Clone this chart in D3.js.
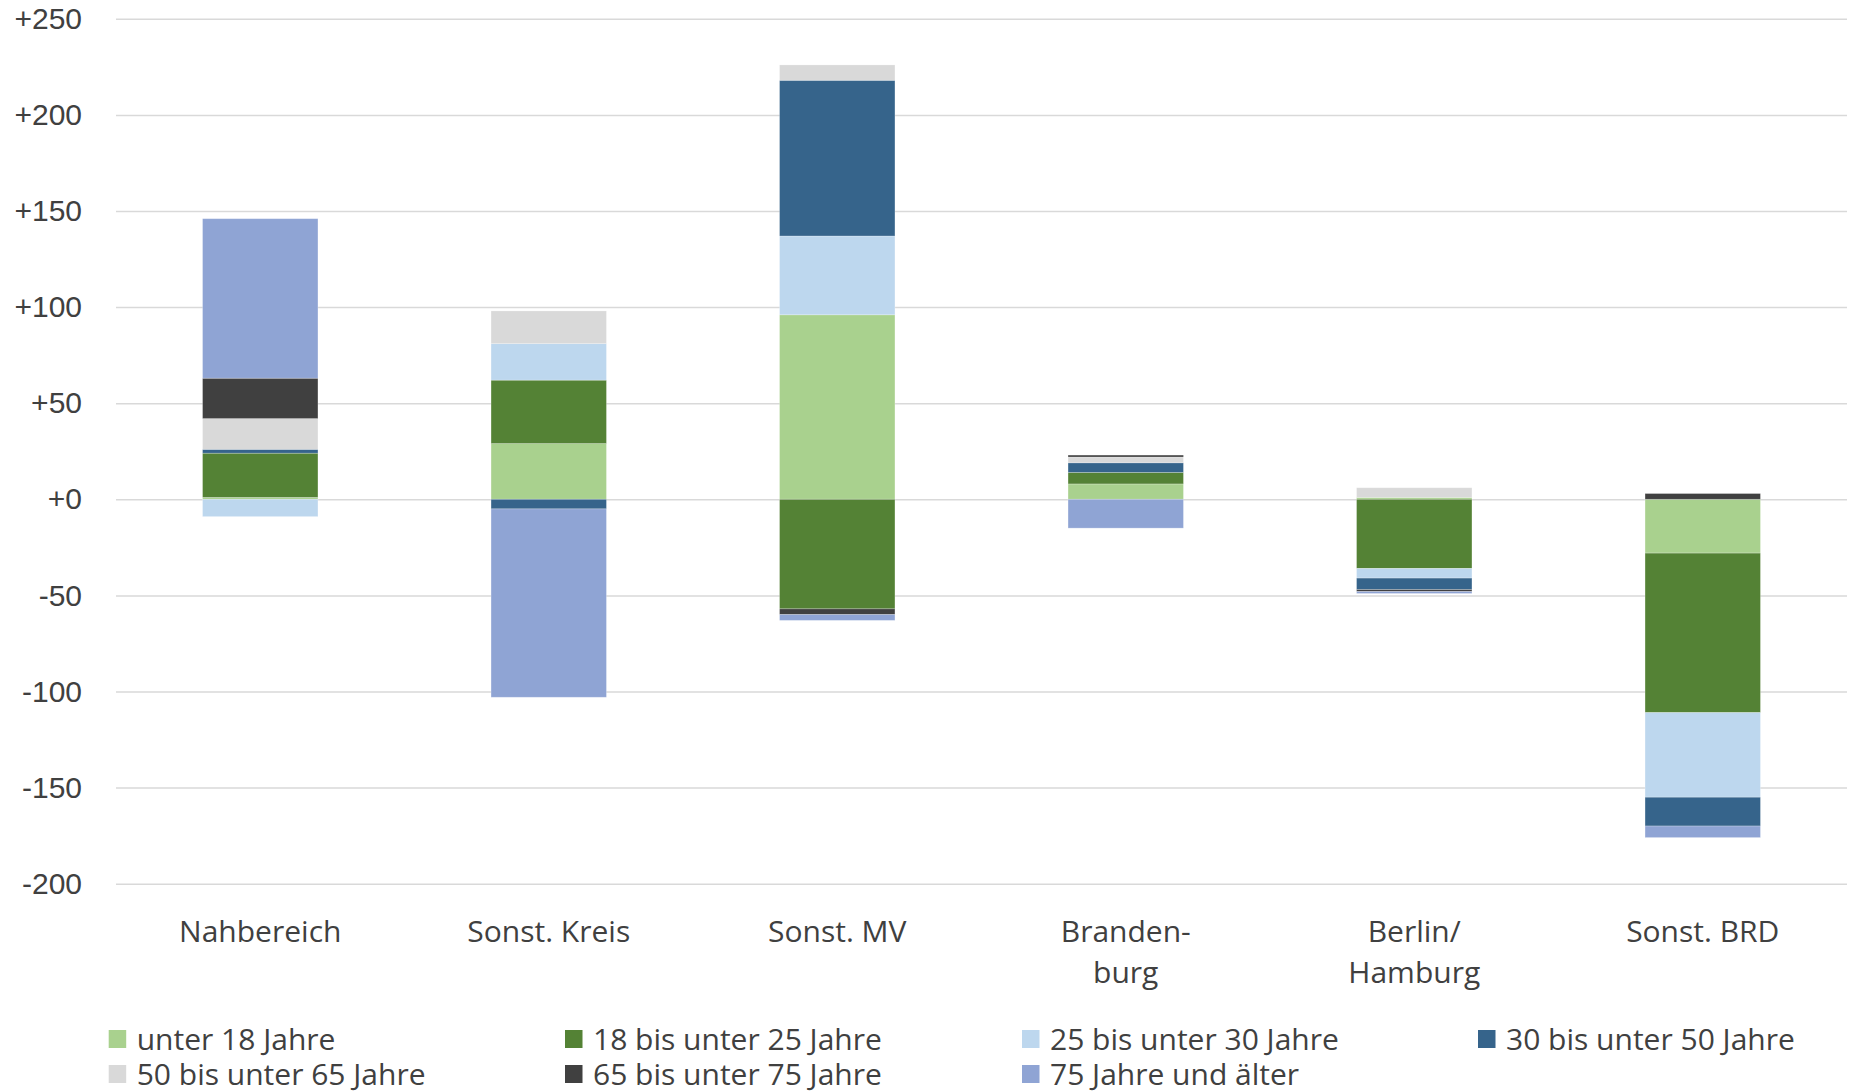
<!DOCTYPE html>
<html lang="de">
<head>
<meta charset="utf-8">
<script src="https://cdn.jsdelivr.net/npm/d3@7"></script>
<style>
  html, body { margin: 0; padding: 0; background: #fff; }
  svg { display: block; font-family: "Open Sans", "Noto Sans", sans-serif; }
  .tick text { fill: #404040; }
</style>
</head>
<body>
<svg id="chart" width="1853" height="1091"></svg>
<script>
// Wanderungssaldo nach Ziel-/Herkunftsregion und Altersgruppe
const categories = ["Nahbereich", "Sonst. Kreis", "Sonst. MV", "Branden-\nburg", "Berlin/\nHamburg", "Sonst. BRD"];
const seriesNames = ["unter 18 Jahre", "18 bis unter 25 Jahre", "25 bis unter 30 Jahre", "30 bis unter 50 Jahre",
                     "50 bis unter 65 Jahre", "65 bis unter 75 Jahre", "75 Jahre und älter"];
const unter18   = [1, 29, 96, 8, 1, -28];
const von18bis25 = [23, 33, -57, 6, -36, -83];
const von25bis30 = [-9, 19, 41, 0, -5, -44];
const von30bis50 = [2, -5, 81, 5, -6, -15];
const von50bis65 = [16, 17, 8, 3, 5, 0];
const von65bis75 = [21, 0, -3, 1, -1, 3];
const ab75       = [83, -98, -3, -15, -1, -6];
const yTicks = [-200, -150, -100, -50, 0, 50, 100, 150, 200, 250];

const seriesValues = [unter18, von18bis25, von25bis30, von30bis50, von50bis65, von65bis75, ab75];
const colors = ["#A9D18E", "#548235", "#BDD7EE", "#36648B", "#D9D9D9", "#404040", "#8FA4D4"];

const rows = categories.map((c, i) => {
  const r = { cat: c };
  seriesNames.forEach((s, j) => { r[s] = seriesValues[j][i]; });
  return r;
});

const svg = d3.select("#chart");
const margin = { left: 116, right: 6, top: 18.8, bottom: 207.3 };
const W = 1853, H = 1091;

const x = d3.scaleBand().domain(categories).range([margin.left, W - margin.right]).paddingInner(0.6).paddingOuter(0.3);
const y = d3.scaleLinear().domain([-200, 250]).range([H - margin.bottom, margin.top]);

// Gitternetz und y-Achse
const yAxis = d3.axisLeft(y).tickValues(yTicks)
  .tickFormat(d => (d >= 0 ? "+" : "") + d)
  .tickSize(-(W - margin.right - margin.left)).tickPadding(34);
const gy = svg.append("g").attr("transform", `translate(${margin.left},0)`).call(yAxis);
gy.select(".domain").remove();
gy.selectAll(".tick line").attr("stroke", "#D9D9D9").attr("stroke-width", 1.5);
gy.selectAll(".tick text").attr("font-size", 30).attr("fill", "#404040");

// gestapelte Balken (positive nach oben, negative nach unten)
const stack = d3.stack().keys(seriesNames).offset(d3.stackOffsetDiverging);
const layers = stack(rows);

svg.append("g").selectAll("g").data(layers).join("g")
  .attr("fill", (d, i) => colors[i])
  .selectAll("rect").data(d => d).join("rect")
  .attr("x", d => x(d.data.cat))
  .attr("width", x.bandwidth())
  .attr("y", d => y(Math.max(d[0], d[1])))
  .attr("height", d => Math.abs(y(d[0]) - y(d[1])))
  .attr("stroke", "#fff").attr("stroke-opacity", 0.3).attr("stroke-width", 0.8);

// Kategorienbeschriftung
const gx = svg.append("g");
categories.forEach(c => {
  const lines = c.split("\n");
  const t = gx.append("text")
    .attr("x", x(c) + x.bandwidth() / 2)
    .attr("y", 942)
    .attr("text-anchor", "middle")
    .attr("font-size", 30)
    .attr("fill", "#404040");
  lines.forEach((ln, k) => {
    t.append("tspan").attr("x", x(c) + x.bandwidth() / 2).attr("dy", k === 0 ? 0 : 41).text(ln);
  });
});

// Legende
const legX = [108.7, 565, 1022, 1478];
const legY = [1039, 1074];
const leg = svg.append("g");
seriesNames.forEach((s, i) => {
  const col = i % 4, row = Math.floor(i / 4);
  const g = leg.append("g").attr("transform", `translate(${legX[col]},${legY[row]})`);
  g.append("rect").attr("x", 0).attr("y", -9).attr("width", 17.5).attr("height", 18).attr("fill", colors[i]);
  g.append("text").attr("x", 28).attr("y", 0).attr("dy", "0.35em")
    .attr("font-size", 30).attr("fill", "#404040").text(s);
});
</script>
</body>
</html>
